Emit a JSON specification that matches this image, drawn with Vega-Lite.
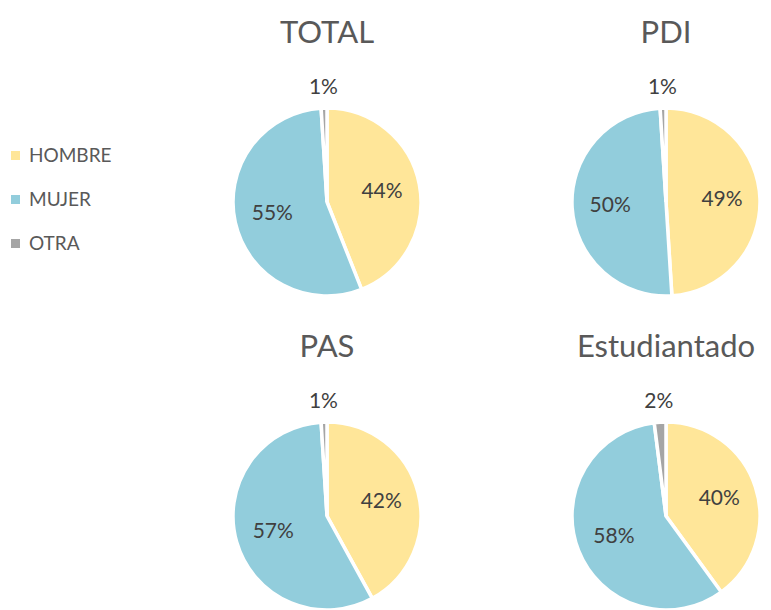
{
  "$schema": "https://vega.github.io/schema/vega-lite/v6.json",
  "background": "white",
  "padding": {"left": 6, "top": 18, "right": 0, "bottom": 0},
  "data": {
    "values": [
      {"chart": "TOTAL", "sexo": "HOMBRE", "pct": 44, "etiqueta": "44%"},
      {"chart": "TOTAL", "sexo": "MUJER", "pct": 55, "etiqueta": "55%"},
      {"chart": "TOTAL", "sexo": "OTRA", "pct": 1, "etiqueta": "1%"},
      {"chart": "PDI", "sexo": "HOMBRE", "pct": 49, "etiqueta": "49%"},
      {"chart": "PDI", "sexo": "MUJER", "pct": 50, "etiqueta": "50%"},
      {"chart": "PDI", "sexo": "OTRA", "pct": 1, "etiqueta": "1%"},
      {"chart": "PAS", "sexo": "HOMBRE", "pct": 42, "etiqueta": "42%"},
      {"chart": "PAS", "sexo": "MUJER", "pct": 57, "etiqueta": "57%"},
      {"chart": "PAS", "sexo": "OTRA", "pct": 1, "etiqueta": "1%"},
      {"chart": "Estudiantado", "sexo": "HOMBRE", "pct": 40, "etiqueta": "40%"},
      {"chart": "Estudiantado", "sexo": "MUJER", "pct": 58, "etiqueta": "58%"},
      {"chart": "Estudiantado", "sexo": "OTRA", "pct": 2, "etiqueta": "2%"}
    ]
  },
  "facet": {
    "field": "chart",
    "type": "nominal",
    "sort": ["TOTAL", "PDI", "PAS", "Estudiantado"],
    "header": {"title": null, "labelFontSize": 31, "labelColor": "#595959", "labelFont": "Lato", "labelPadding": 27}
  },
  "columns": 2,
  "spacing": {"column": 69, "row": 15},
  "spec": {
    "width": 200,
    "height": 230,
    "encoding": {
      "theta": {"field": "pct", "type": "quantitative", "stack": true},
      "order": {"field": "sexo", "type": "nominal", "sort": "ascending"}
    },
    "layer": [
      {
        "mark": {"type": "arc", "outerRadius": 94, "stroke": "white", "strokeWidth": 3.5},
        "encoding": {
          "color": {
            "field": "sexo",
            "type": "nominal",
            "scale": {"domain": ["HOMBRE", "MUJER", "OTRA"], "range": ["#FFE699", "#92CDDC", "#A5A5A5"]},
            "legend": {
              "orient": "none", "legendX": -221, "legendY": 59, "title": null,
              "symbolType": "square", "symbolSize": 81, "symbolStrokeWidth": 0,
              "labelFontSize": 19, "labelColor": "#595959", "labelFont": "Lato",
              "rowPadding": 24, "labelOffset": 4
            }
          }
        }
      },
      {
        "mark": {"type": "text", "radius": 56, "fontSize": 21, "font": "Lato", "color": "#404040"},
        "encoding": {
          "text": {"field": "etiqueta", "type": "nominal"},
          "opacity": {"condition": {"test": "datum.sexo === 'OTRA'", "value": 0}, "value": 1}
        }
      },
      {
        "mark": {"type": "text", "radius": 114, "fontSize": 21, "font": "Lato", "color": "#404040"},
        "encoding": {
          "text": {"field": "etiqueta", "type": "nominal"},
          "opacity": {"condition": {"test": "datum.sexo !== 'OTRA'", "value": 0}, "value": 1}
        }
      }
    ]
  },
  "config": {"view": {"stroke": null}}
}
